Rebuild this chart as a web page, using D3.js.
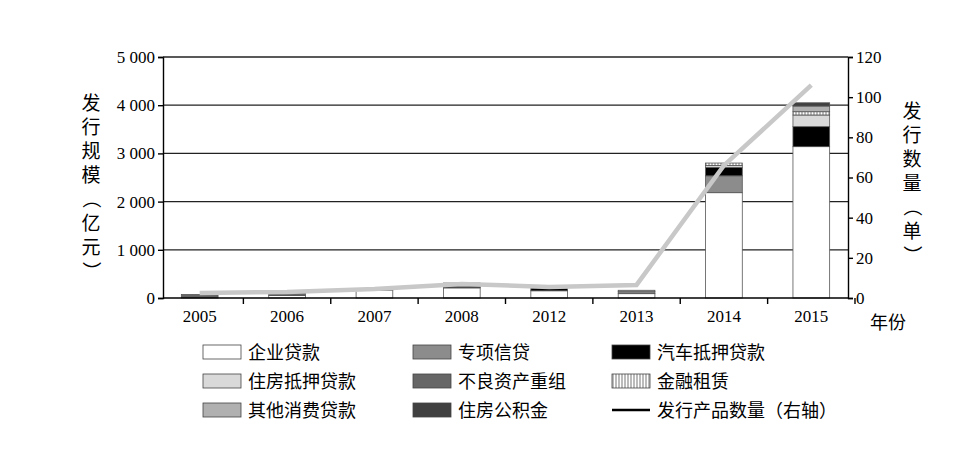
<!DOCTYPE html>
<html><head><meta charset="utf-8">
<script src="https://cdn.jsdelivr.net/npm/d3@7"></script>
<style>body{margin:0;background:#fff}text{font-family:"Noto Sans CJK SC","Liberation Serif",serif}</style>
</head><body><svg id="c" width="980" height="467"></svg>
<script>
var years = ["2005", "2006", "2007", "2008", "2012", "2013", "2014", "2015"];
var corporate = [0, 50, 165, 210, 150, 90, 2185, 3140];
var special = [0, 0, 25, 0, 0, 40, 350, 0];
var auto = [0, 0, 0, 20, 60, 0, 175, 415];
var mortgage = [15, 0, 0, 20, 0, 0, 40, 242];
var npl = [57, 80, 0, 60, 0, 0, 0, 0];
var leasing = [0, 0, 0, 0, 0, 0, 50, 68];
var consumer = [0, 0, 0, 0, 0, 30, 0, 118];
var fund = [0, 0, 0, 0, 0, 0, 0, 67];
var counts = [2.5, 3, 4.5, 7, 5.5, 6.5, 66, 106];
var yLeftTicks = [0, 1000, 2000, 3000, 4000, 5000];
var yRightTicks = [0, 20, 40, 60, 80, 100, 120];

var series = [
  { name: "企业贷款", v: corporate, fill: "#fff" },
  { name: "专项信贷", v: special, fill: "#8c8c8c" },
  { name: "汽车抵押贷款", v: auto, fill: "#000" },
  { name: "住房抵押贷款", v: mortgage, fill: "#d9d9d9" },
  { name: "不良资产重组", v: npl, fill: "#666" },
  { name: "金融租赁", v: leasing, fill: "url(#hatch)" },
  { name: "其他消费贷款", v: consumer, fill: "#b0b0b0" },
  { name: "住房公积金", v: fund, fill: "#404040" }
];
var data = years.map(function (yr, i) {
  var o = { year: yr };
  series.forEach(function (s) { o[s.name] = s.v[i]; });
  return o;
});
var stacked = d3.stack().keys(series.map(function (s) { return s.name; }))(data);

var svg = d3.select("#c");
var defs = svg.append("defs");
var pat = defs.append("pattern").attr("id", "hatch").attr("width", 3).attr("height", 4).attr("patternUnits", "userSpaceOnUse");
pat.append("rect").attr("width", 3).attr("height", 4).attr("fill", "#fff");
pat.append("line").attr("x1", 1).attr("x2", 1).attr("y1", 0).attr("y2", 4).attr("stroke", "#777").attr("stroke-width", 1);

var pLeft = 163, pRight = 848, pTop = 57, pBottom = 298;
var x = d3.scaleBand().domain(years).range([pLeft, pRight]).paddingInner(0.58).paddingOuter(0.21);
var y = d3.scaleLinear().domain([0, 5000]).range([pBottom, pTop]);
var y2 = d3.scaleLinear().domain([0, 120]).range([pBottom, pTop]);

// grid
svg.append("g").selectAll("line").data(yLeftTicks.slice(1)).enter().append("line")
  .attr("x1", pLeft).attr("x2", pRight)
  .attr("y1", function (d) { return y(d); }).attr("y2", function (d) { return y(d); })
  .attr("stroke", "#222").attr("stroke-width", 1.2);

var g = svg.append("g");
g.selectAll("g").data(stacked).enter().append("g")
  .attr("fill", function (d, i) { return series[i].fill; })
  .selectAll("rect").data(function (d) { return d.filter(function (e) { return e[1] - e[0] > 0; }); })
  .enter().append("rect")
  .attr("x", function (d) { return x(d.data.year); })
  .attr("width", x.bandwidth())
  .attr("y", function (d) { return y(d[1]); })
  .attr("height", function (d) { return y(d[0]) - y(d[1]); })
  .attr("stroke", "#555").attr("stroke-width", 0.8);

var line = d3.line().x(function (d, i) { return x(years[i]) + x.bandwidth() / 2; }).y(function (d) { return y2(d); });
svg.append("path").datum(counts).attr("d", line).attr("fill", "none")
  .attr("stroke", "#c8c8c8").attr("stroke-width", 4.5);

var yAxisL = svg.append("g").attr("transform", "translate(" + pLeft + ",0)")
  .call(d3.axisLeft(y).tickValues(yLeftTicks).tickSize(5).tickFormat(function (d) { return d >= 1000 ? (d / 1000) + " 000" : d; }));
var yAxisR = svg.append("g").attr("transform", "translate(" + pRight + ",0)")
  .call(d3.axisRight(y2).tickValues(yRightTicks).tickSize(5));
var xAxis = svg.append("g").attr("transform", "translate(0," + pBottom + ")")
  .call(d3.axisBottom(x).tickSize(0).tickPadding(12));
xAxis.selectAll(".tick").append("line").attr("x1", x.step() / 2).attr("x2", x.step() / 2)
  .attr("y1", 0).attr("y2", 6);
svg.append("line").attr("x1", pLeft).attr("x2", pRight).attr("y1", pTop).attr("y2", pTop).attr("stroke", "#222");
[yAxisL, yAxisR, xAxis].forEach(function (a) {
  a.selectAll("path,line").attr("stroke", "#000").attr("stroke-width", 1.4);
  a.selectAll("text").attr("font-size", 17).attr("fill", "#000").style("font-family", "Liberation Serif");
});
xAxis.select(".domain").attr("d", "M" + pLeft + ",0H" + pRight);

svg.append("text").attr("x", 870).attr("y", 329).attr("font-size", 18).text("年份");
function vtext(xp, y0, s) {
  svg.append("g").selectAll("text").data(s.split("")).enter().append("text")
    .attr("x", xp).attr("y", function (d, i) { return y0 + i * 24; })
    .attr("text-anchor", "middle").attr("font-size", 19)
    .attr("transform", function (d, i) { return "（）".indexOf(d) >= 0 ? "rotate(90," + xp + "," + (y0 + i * 24 - 7) + ")" : null; })
    .text(function (d) { return d; });
}
vtext(91, 110, "发行规模（亿元）");
vtext(912, 118, "发行数量（单）");

var legend = svg.append("g");
var cols = [203, 413, 612];
series.concat([{ name: "发行产品数量（右轴）", line: true }]).forEach(function (s, i) {
  var cx = cols[i % 3], cy = 352 + Math.floor(i / 3) * 29;
  if (s.line) {
    legend.append("line").attr("x1", cx).attr("x2", cx + 38).attr("y1", cy).attr("y2", cy).attr("stroke", "#000").attr("stroke-width", 2.5);
  } else {
    legend.append("rect").attr("x", cx).attr("y", cy - 7).attr("width", 38).attr("height", 14)
      .attr("fill", s.fill).attr("stroke", "#444").attr("stroke-width", 0.8);
  }
  legend.append("text").attr("x", cx + 45).attr("y", cy + 7).attr("font-size", 18).text(s.name);
});
</script></body></html>
